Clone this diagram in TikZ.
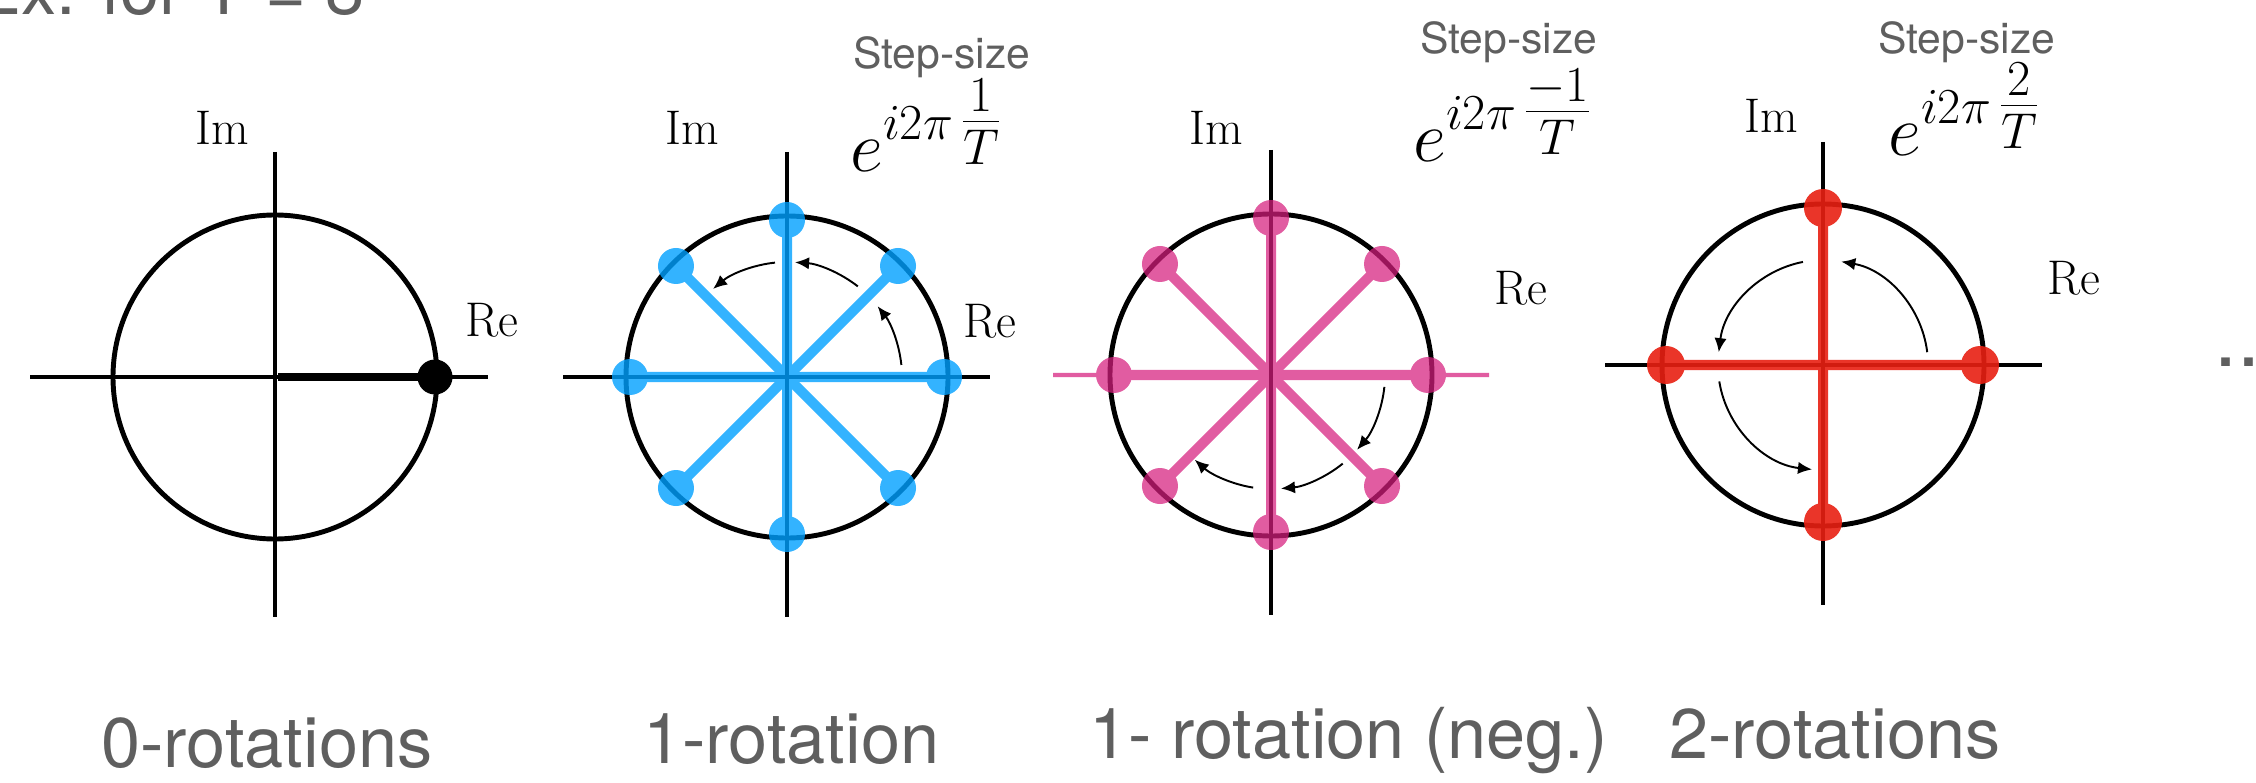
\RequirePackage{fix-cm}
\documentclass[tikz,border=0pt]{standalone}
\usepackage{amsmath}
\usepackage{fontspec}
\setsansfont{TeX Gyre Heros}
\usepackage{xcolor}
\usetikzlibrary{arrows.meta, positioning}

\definecolor{rotblue}{RGB}{0,160,255}
\definecolor{rotpink}{RGB}{214,30,125}
\definecolor{rotred}{RGB}{232,32,18}
\definecolor{captiongray}{RGB}{95,95,95}

\begin{document}
\begin{tikzpicture}[
    x=0.02cm, y=0.02cm,
    axis/.style={line width=2.8pt, black},
    unit/.style={line width=2.8pt, black},
    spoke/.style={line width=5.7pt},
    turn/.style={-{Latex[length=8pt, width=7pt]}, line width=1.1pt},
    axislabel/.style={inner sep=0, anchor=base west, font=\fontsize{27.7}{33}\selectfont},
    stepsize/.style={inner sep=0, anchor=base west, text=captiongray,
        font=\sffamily\fontsize{24.3}{29}\selectfont},
    expo/.style={inner sep=0, anchor=base west, font=\fontsize{41}{48}\selectfont},
    caption/.style={inner sep=0, anchor=base west, text=captiongray,
        font=\sffamily\fontsize{40}{48}\selectfont}
]
\path[use as bounding box, fill=white] (0,0) rectangle (2256,782);

% 1. Centres of the four unit circles
\coordinate (zero) at (275,405);
\coordinate (one) at (787,405);
\coordinate (neg) at (1271,407);
\coordinate (two) at (1823,417);

% 2. 0-rotations
\begin{scope}[shift={(zero)}]
    \draw[axis] (-245,0) -- (213,0);
    \draw[axis] (0,225) -- (0,-240);
    \draw[unit] (0,0) circle[radius=162];
    \draw[line width=4.6pt] (3,0) -- (160,0);
    \fill (160,0) circle[radius=17.5];
\end{scope}

% 3. 1-rotation
\begin{scope}[shift={(one)}]
    \draw[axis] (-224,0) -- (203,0);
    \draw[axis] (0,225) -- (0,-240);
    \draw[unit] (0,0) circle[radius=161];
    \begin{scope}[transparency group, opacity=0.8]
        \foreach \a in {0,45,...,315} {
            \draw[spoke, rotblue] (0,0) -- (\a:157);
            \fill[rotblue] (\a:157) circle[radius=18];
        }
    \end{scope}
    \draw[turn] (6:115) arc[start angle=6, end angle=38, radius=115];
    \draw[turn] (52:115) arc[start angle=52, end angle=86, radius=115];
    \draw[turn] (96:115) arc[start angle=96, end angle=130, radius=115];
\end{scope}

% 4. 1-rotation (negative)
\begin{scope}[shift={(neg)}]
    \draw[axis] (0,225) -- (0,-240);
    \draw[unit] (0,0) circle[radius=161];
    \begin{scope}[transparency group, opacity=0.72]
        \draw[line width=2.4pt, rotpink] (-218,0) -- (218,0);
        \foreach \a in {0,45,...,315} {
            \draw[spoke, rotpink] (0,0) -- (\a:157);
            \fill[rotpink] (\a:157) circle[radius=18];
        }
    \end{scope}
    \draw[turn] (-6:114) arc[start angle=-6, end angle=-41, radius=114];
    \draw[turn] (-51:114) arc[start angle=-51, end angle=-85, radius=114];
    \draw[turn] (-99:114) arc[start angle=-99, end angle=-132, radius=114];
\end{scope}

% 5. 2-rotations
\begin{scope}[shift={(two)}]
    \draw[axis] (-218,0) -- (219,0);
    \draw[axis] (0,223) -- (0,-240);
    \draw[unit] (0,0) circle[radius=161];
    \begin{scope}[transparency group, opacity=0.9]
        \foreach \a in {0,90,...,270} {
            \draw[spoke, rotred] (0,0) -- (\a:157);
            \fill[rotred] (\a:157) circle[radius=19];
        }
    \end{scope}
    \draw[turn] (7:105) arc[start angle=7, end angle=80, radius=105];
    \draw[turn] (101:105) arc[start angle=101, end angle=173, radius=105];
    \draw[turn] (189:105) arc[start angle=189, end angle=264, radius=105];
\end{scope}

% 6. Axis labels
\node[axislabel] (im0) at (195,637) {Im};
\node[axislabel] (re0) at (465,445) {Re};
\node[axislabel] (im1) at (665,637) {Im};
\node[axislabel] (re1) at (963,444) {Re};
\node[axislabel] (im2) at (1189,637) {Im};
\node[axislabel] (re2) at (1494,477) {Re};
\node[axislabel] (im3) at (1744,649) {Im};
\node[axislabel] (re3) at (2047,487) {Re};

% 7. Step sizes
\node[stepsize] (step1) at (853,713) {Step-size};
\node[stepsize] (step2) at (1420,728) {Step-size};
\node[stepsize] (step3) at (1878,728) {Step-size};
\node[expo] (expo1) at (850,610) {$e^{i2\pi\,\tfrac{1}{T}}$};
\node[expo] (expo2) at (1413,620) {$e^{i2\pi\,\tfrac{-1}{T}}$};
\node[expo] (expo3) at (1888,626) {$e^{i2\pi\,\tfrac{2}{T}}$};

% 8. Captions
\node[caption] (title) at (-26,767) {Ex. for T = 8};
\node[caption] (cap0) at (101,15) {0-rotations};
\node[caption] (cap1) at (643,19) {1-rotation};
\node[caption] (cap2) at (1089,24) {1- rotation (neg.)};
\node[caption] (cap3) at (1669,24) {2-rotations};
\node[caption, font=\sffamily\fontsize{47}{56}\selectfont] (more) at (2214,416) {...};

\end{tikzpicture}
\end{document}
